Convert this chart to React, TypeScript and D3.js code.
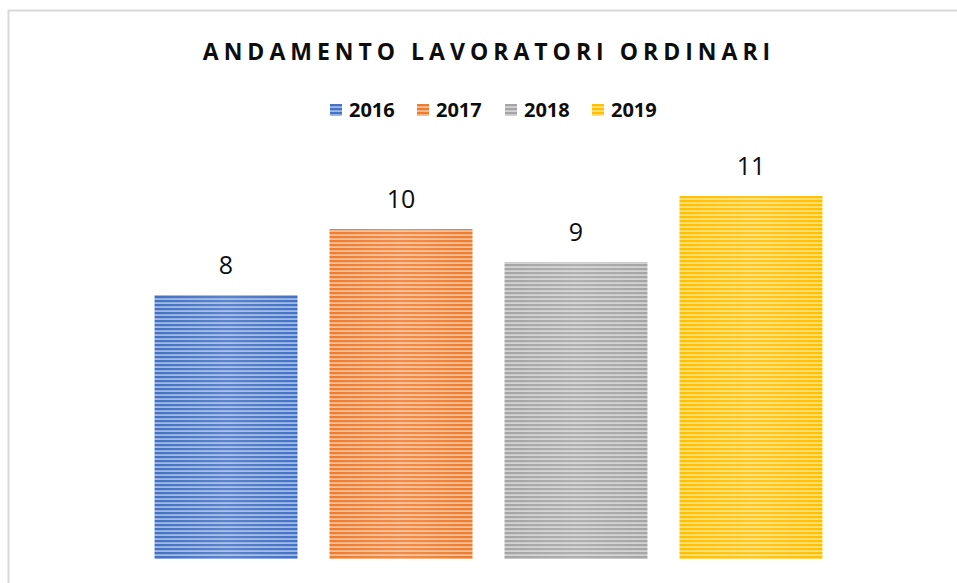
import React from "react";
import * as d3 from "d3";

const categories = ["2016", "2017", "2018", "2019"];
const values = [8, 10, 9, 11];
const colors = ["#4472C4", "#ED7D31", "#A5A5A5", "#FFC000"];
const title = "ANDAMENTO LAVORATORI ORDINARI";

const W = 957;
const H = 583;

export default function App() {
  const x = d3.scaleBand<string>().domain(categories).range([66, 911]).paddingInner(0.183).paddingOuter(0.506);
  const y = d3.scaleLinear().domain([0, 12]).range([559, 163]);
  const light = (c: string) => d3.interpolateRgb(c, "#ffffff")(0.5);

  const legendX = [330, 417, 505, 592];

  return (
    <svg width={W} height={H} style={{ position: "absolute", left: 0, top: 0 }}>
      <defs>
        {colors.map((c, i) => (
          <pattern key={i} id={`pat${i}`} patternUnits="userSpaceOnUse" width={8} height={4}>
            <rect width={8} height={4} fill={light(c)} />
            <rect width={8} height={2.2} fill={c} />
          </pattern>
        ))}
        <linearGradient id="glow" x1="0" x2="1" y1="0" y2="0">
          <stop offset="0" stopColor="#fff" stopOpacity={0} />
          <stop offset="0.5" stopColor="#fff" stopOpacity={0.12} />
          <stop offset="1" stopColor="#fff" stopOpacity={0} />
        </linearGradient>
      </defs>
      <rect x={0} y={0} width={W} height={H} fill="#fff" />
      <path d={`M8.5,${H} V10.5 H${W}`} fill="none" stroke="#d9d9d9" strokeWidth={2} />
      <text
        x={489}
        y={60}
        textAnchor="middle"
        fontFamily="'Open Sans', sans-serif"
        fontWeight={700}
        fontSize={23}
        letterSpacing={5}
        fill="#0d0d0d"
      >
        {title}
      </text>
      {categories.map((c, i) => (
        <g key={c}>
          <rect x={legendX[i]} y={104} width={12} height={12} fill={`url(#pat${i})`} />
          <text
            x={legendX[i] + 19}
            y={117}
            fontFamily="'Open Sans', sans-serif"
            fontWeight={700}
            fontSize={20}
            fill="#0d0d0d"
          >
            {c}
          </text>
        </g>
      ))}
      {categories.map((c, i) => (
        <g key={c}>
          <rect
            x={x(c)}
            y={y(values[i])}
            width={x.bandwidth()}
            height={y(0) - y(values[i])}
            fill={`url(#pat${i})`}
          />
          <rect
            x={x(c)}
            y={y(values[i])}
            width={x.bandwidth()}
            height={y(0) - y(values[i])}
            fill="url(#glow)"
          />
          <text
            x={(x(c) as number) + x.bandwidth() / 2}
            y={y(values[i]) - 21}
            textAnchor="middle"
            fontFamily="'Open Sans', sans-serif"
            fontSize={25}
            fill="#0d0d0d"
          >
            {values[i]}
          </text>
        </g>
      ))}
    </svg>
  );
}
